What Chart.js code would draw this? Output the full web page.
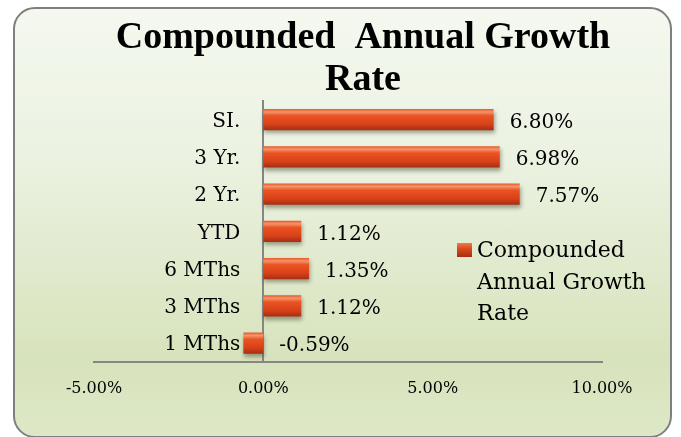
<!DOCTYPE html>
<html>
<head>
<meta charset="utf-8">
<script src="https://cdn.jsdelivr.net/npm/chart.js@4.4.1/dist/chart.umd.min.js"></script>
<style>
  html, body { margin: 0; padding: 0; background: #fff; }
  #wrap { position: relative; width: 681px; height: 437px; overflow: hidden; }
  #card {
    position: absolute; left: 13px; top: 7px; width: 655px; height: 427px;
    border: 2px solid #7f7f7f; border-radius: 22px;
    background: linear-gradient(to bottom, #f4f8ef 0%, #ebf2e1 35%, #d7e3bc 82%, #dee8c7 100%);
  }
  #chart { position: absolute; left: 0; top: 0; }
</style>
</head>
<body>
<div id="wrap">
  <div id="card"></div>
  <canvas id="chart" width="681" height="437"></canvas>
</div>
<script>
/* ===== Compounded Annual Growth Rate ===== */

const titleLines = ['Compounded  Annual Growth', 'Rate'];
const categories = ['SI.', '3 Yr.', '2 Yr.', 'YTD', '6 MThs', '3 MThs', '1 MThs'];
const cagrValues = [6.80, 6.98, 7.57, 1.12, 1.35, 1.12, -0.59];
const seriesName = ['Compounded', 'Annual Growth', 'Rate'];
const xMin = -5, xMax = 10, xStep = 5;

const SERIF = '"DejaVu Serif", serif';

// cylinder-ish shading for each bar
function barFill(c) {
  const chart = c.chart;
  const ys = chart.scales.y;
  if (!ys || c.dataIndex === undefined || !chart.chartArea) return '#e04a1e';
  const yc = ys.getPixelForValue(c.dataIndex);
  const h = (chart.chartArea.bottom - chart.chartArea.top) / categories.length * 0.57 / 2;
  const g = chart.ctx.createLinearGradient(0, yc - h, 0, yc + h);
  g.addColorStop(0, '#e4582a');
  g.addColorStop(0.14, '#f6946a');
  g.addColorStop(0.32, '#ea5321');
  g.addColorStop(0.7, '#d9421a');
  g.addColorStop(1, '#a52f10');
  return g;
}

const shadowPlugin = {
  id: 'barShadow',
  beforeDatasetsDraw(chart) {
    const ctx = chart.ctx;
    ctx.save();
    ctx.shadowColor = 'rgba(60,60,40,0.45)';
    ctx.shadowBlur = 4;
    ctx.shadowOffsetX = 1;
    ctx.shadowOffsetY = 3;
  },
  afterDatasetsDraw(chart) {
    chart.ctx.restore();
  }
};

const labelPlugin = {
  id: 'extras',
  afterDraw(chart) {
    const ctx = chart.ctx;
    const xs = chart.scales.x;
    const ys = chart.scales.y;
    const x0 = xs.getPixelForValue(0);

    ctx.save();
    ctx.fillStyle = '#000';
    ctx.textBaseline = 'middle';

    // category labels, right aligned next to the zero line
    ctx.font = '20px ' + SERIF;
    ctx.textAlign = 'right';
    categories.forEach((c, i) => ctx.fillText(c, x0 - 23, ys.getPixelForValue(i) + 2));

    // value labels
    ctx.textAlign = 'left';
    chart.getDatasetMeta(0).data.forEach((bar, i) => {
      ctx.fillText(cagrValues[i].toFixed(2) + '%', Math.max(bar.x, x0) + 16, bar.y + 3);
    });

    // title
    ctx.font = 'bold 38px "Liberation Serif", serif';
    ctx.textAlign = 'center';
    ctx.textBaseline = 'alphabetic';
    titleLines.forEach((t, i) => ctx.fillText(t, 363, 48 + i * 42));

    // legend
    const g = ctx.createLinearGradient(0, 243, 0, 257);
    g.addColorStop(0, '#f07a4c');
    g.addColorStop(0.4, '#dd4a1c');
    g.addColorStop(1, '#a52f10');
    ctx.fillStyle = g;
    ctx.fillRect(457, 243, 15, 14);
    ctx.fillStyle = '#000';
    ctx.font = '22px ' + SERIF;
    ctx.textAlign = 'left';
    seriesName.forEach((t, i) => ctx.fillText(t, 477, 257 + i * 31.5));
    ctx.restore();
  }
};

new Chart(document.getElementById('chart').getContext('2d'), {
  type: 'bar',
  data: {
    labels: categories,
    datasets: [{
      label: seriesName.join(' '),
      data: cagrValues,
      backgroundColor: barFill,
      borderWidth: 0,
      barPercentage: 0.57,
      categoryPercentage: 1
    }]
  },
  options: {
    indexAxis: 'y',
    responsive: false,
    animation: false,
    layout: { padding: { left: 94, right: 79, top: 101, bottom: 22 } },
    plugins: {
      legend: { display: false },
      title: { display: false },
      tooltip: { enabled: false }
    },
    scales: {
      x: {
        min: xMin,
        max: xMax,
        grid: { display: false, drawTicks: false },
        border: { display: true, color: '#868686', width: 2 },
        ticks: {
          stepSize: xStep,
          padding: 17,
          color: '#000',
          font: { family: SERIF, size: 16 },
          callback: v => v.toFixed(2) + '%'
        }
      },
      y: {
        position: { x: 0 },
        grid: { display: false, drawTicks: false },
        border: { display: true, color: '#868686', width: 2 },
        ticks: { display: false }
      }
    }
  },
  plugins: [shadowPlugin, labelPlugin]
});
</script>
</body>
</html>
